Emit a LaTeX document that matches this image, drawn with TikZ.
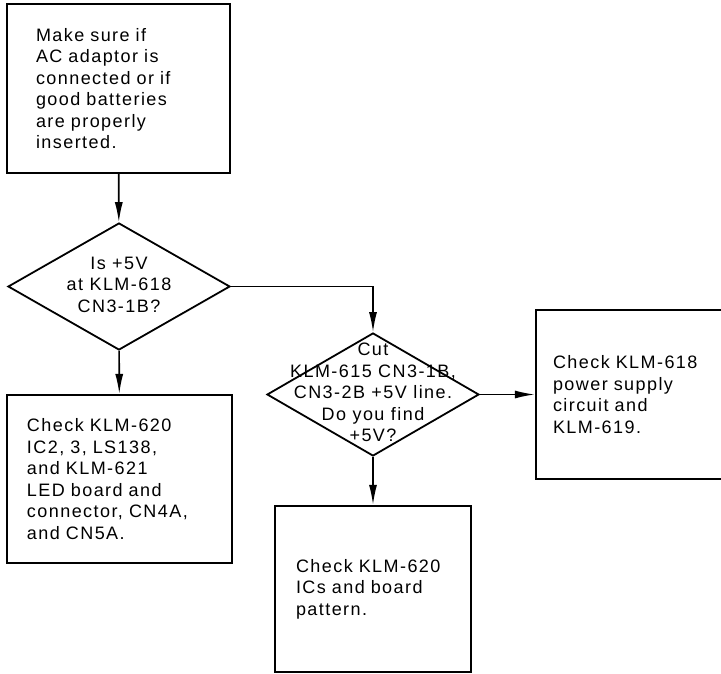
\documentclass[tikz,border=0pt]{standalone}
\usepackage{fontspec}
\setmainfont{Liberation Sans}[LetterSpace=8]
\usetikzlibrary{arrows.meta,shapes.geometric}
\newcommand{\qlines}[1]{\smash{\makebox[0pt]{\raisebox{-0.25em}{\begin{tabular}{@{}c@{}}#1\end{tabular}}}}}

\begin{document}
\begin{tikzpicture}[x=1pt,y=-1pt,
  box/.style={draw,line width=2.2pt,rectangle,align=left,inner ysep=0pt},
  query/.style={draw,line width=1.8pt,diamond,inner sep=0pt,aspect=1},
  flow/.style={line width=1.6pt},
  font=\fontsize{18}{21.5}\selectfont,
  >={Latex[length=20pt,width=8pt]}]
\useasboundingbox (0,0) rectangle (721,674);

\draw (118.5,88.5) node[box,text width=165pt,inner xsep=29pt,minimum height=169pt] (start)
  {Make sure if\\AC adaptor is\\connected or if\\good batteries\\are properly\\inserted.};
\draw (119,286.5) node[query,minimum width=222pt,minimum height=127pt] (q1)
  {\qlines{Is +5V\\at KLM-618\\CN3-1B?}};
\draw (119.5,479) node[box,text width=185pt,inner xsep=20pt,minimum height=168pt] (chk620)
  {Check~KLM-620\\IC2, 3, LS138,\\and KLM-621\\LED board and\\connector, CN4A,\\and CN5A.};
\draw (373,394.5) node[query,minimum width=212pt,minimum height=123pt] (q2)
  {\qlines{Cut\\KLM-615 CN3-1B,\\CN3-2B +5V line.\\Do you find\\+5V?}};
\draw (683,394.5) node[box,text width=260pt,inner xsep=17pt,minimum height=169pt] (chk618)
  {Check~KLM-618\\power supply\\circuit and\\KLM-619.};
\draw (373,589) node[box,text width=154pt,inner xsep=21pt,minimum height=166pt] (chkics)
  {Check~KLM-620\\ICs and board\\pattern.};

\draw[flow, ->] (start) -- (q1);
\draw[flow, ->] (q1) -- (chk620);
\draw[flow, ->] (q1.east) -| (q2.north);
\draw[flow, ->] (q2) -- (chk618);
\draw[flow, ->] (q2) -- (chkics);

\end{tikzpicture}
\end{document}
